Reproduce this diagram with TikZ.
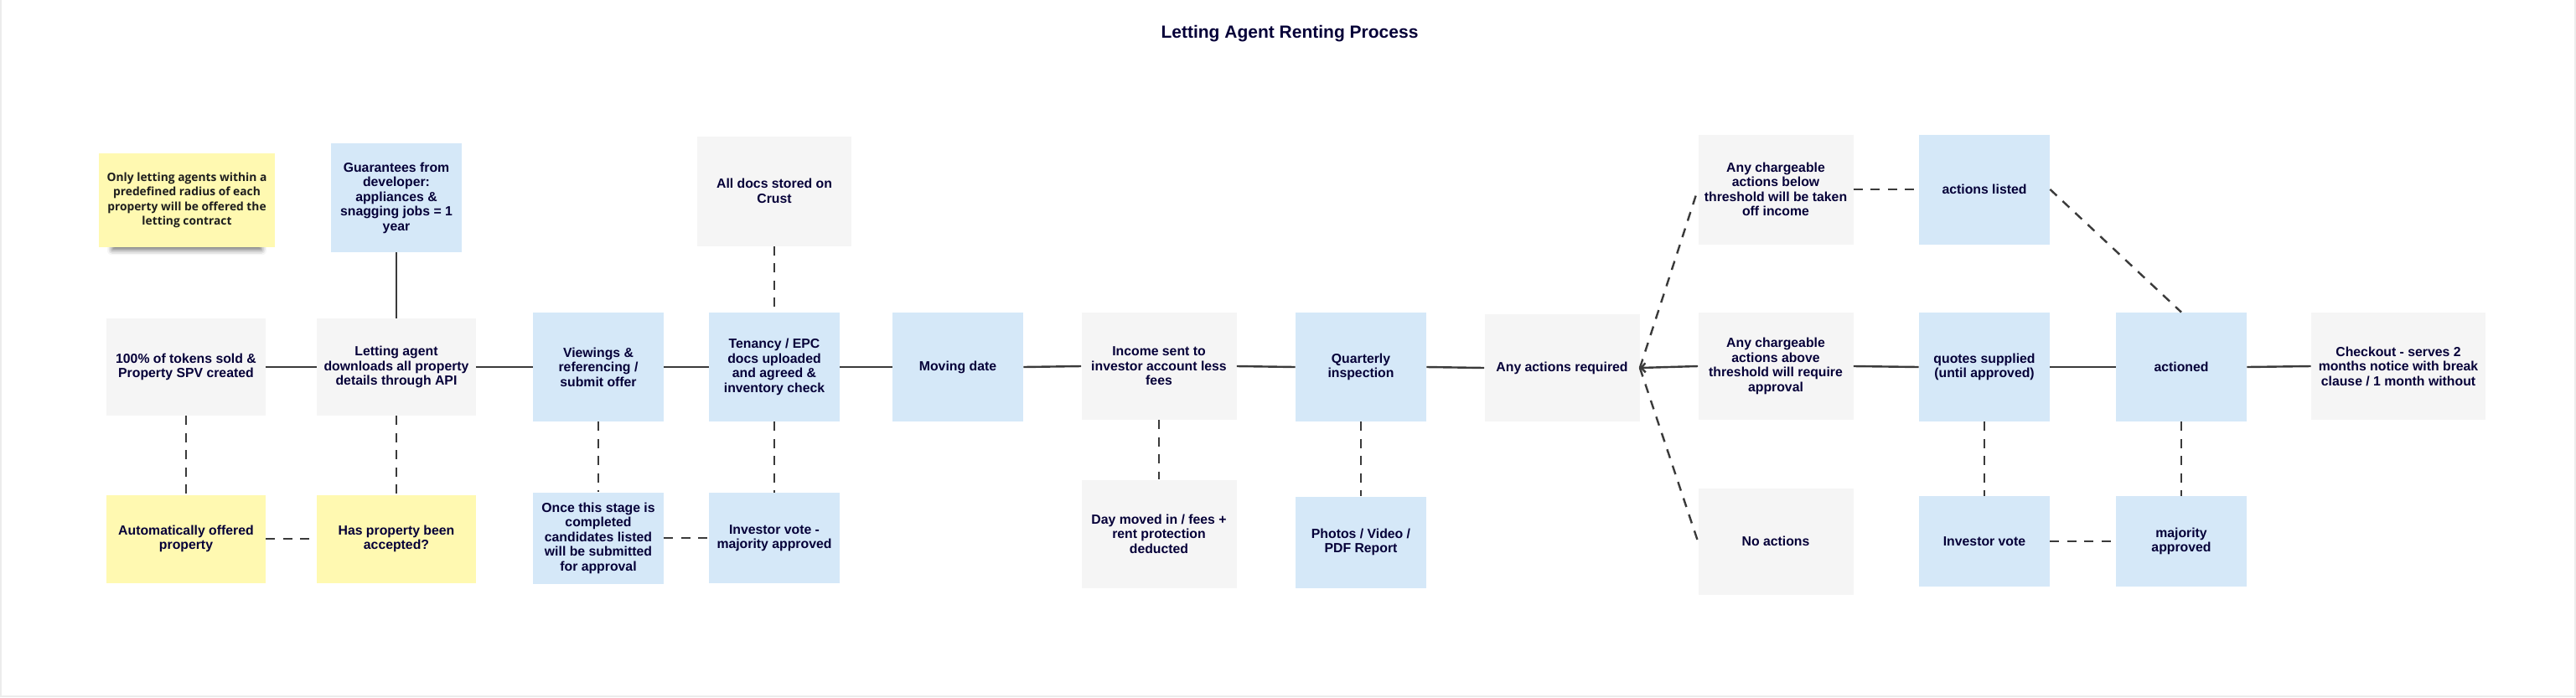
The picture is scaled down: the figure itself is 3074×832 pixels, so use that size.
\documentclass[tikz,border=0pt]{standalone}
\usepackage{fontspec}
\setmainfont{Liberation Sans}
\newfontfamily\notefont{Open Sans}
\usetikzlibrary{arrows.meta, shadows.blur}

\definecolor{ink}{HTML}{050038}
\definecolor{notetext}{HTML}{1E1E1E}
\definecolor{boxgray}{HTML}{F5F5F5}
\definecolor{boxblue}{HTML}{D5E8F8}
\definecolor{boxyellow}{HTML}{FFF9B1}
\definecolor{wire}{HTML}{3A3A3A}
\definecolor{edge}{HTML}{ECECEC}

\begin{document}
\begin{tikzpicture}[x=0.5pt, y=-0.5pt,
    box/.style={inner sep=0pt, align=center, text=ink, font=\fontsize{7.9}{8.75}\selectfont\bfseries},
    gbox/.style={box, fill=boxgray},
    bbox/.style={box, fill=boxblue},
    ybox/.style={box, fill=boxyellow},
    boxsize/.style 2 args={minimum width=#1*0.5pt, minimum height=#2*0.5pt},
    link/.style={wire, line width=1.2pt},
    dlink/.style={link, dash pattern=on 5.5pt off 4.75pt}]

    \useasboundingbox (0,0) rectangle (3074,832);
    % thin frame round the board
    \draw[edge, line width=1pt] (1,0) -- (1,831) -- (3073,831) -- (3073,0);

    \node[text=ink, font=\fontsize{10.5}{12}\selectfont\bfseries] (title) at (1539,40) {Letting Agent Renting Process};

    % sticky note
    \node[ybox, boxsize={210}{112}, text=notetext, font=\notefont\fontsize{6.9}{8.7}\selectfont\bfseries,
        blur shadow={shadow xshift=0pt, shadow yshift=-7pt, shadow scale=0.85, shadow opacity=55, shadow blur radius=3.5pt}]
        (note) at (223,239) {Only letting agents within a\\predefined radius of each\\property will be offered the\\letting contract};

    % top row
    \node[bbox, boxsize={156}{130}] (guar) at (473,236) {Guarantees from\\developer:\\appliances \&\\snagging jobs = 1\\year};
    \node[gbox, boxsize={184}{131}] (docs) at (924,228) {All docs stored on\\Crust};
    \node[gbox, boxsize={185}{131}] (below) at (2119,226) {Any chargeable\\actions below\\threshold will be taken\\off income};
    \node[bbox, boxsize={156}{131}] (listed) at (2368,226) {actions listed};

    % main row
    \node[gbox, boxsize={190}{116}] (tokens) at (222,438) {100\% of tokens sold \&\\Property SPV created};
    \node[gbox, boxsize={190}{116}] (agent) at (473,438) {Letting agent\\downloads all property\\details through API};
    \node[bbox, boxsize={156}{130}] (view) at (714,438) {Viewings \&\\referencing /\\submit offer};
    \node[bbox, boxsize={156}{130}] (tenancy) at (924,438) {Tenancy / EPC\\docs uploaded\\and agreed \&\\inventory check};
    \node[bbox, boxsize={156}{130}] (moving) at (1143,438) {Moving date};
    \node[gbox, boxsize={185}{128}] (income) at (1383,437) {Income sent to\\investor account less\\fees};
    \node[bbox, boxsize={156}{130}] (quarterly) at (1624,438) {Quarterly\\inspection};
    \node[gbox, boxsize={185}{128}] (anyact) at (1864,439) {Any actions required};
    \node[gbox, boxsize={185}{128}] (above) at (2119,437) {Any chargeable\\actions above\\threshold will require\\approval};
    \node[bbox, boxsize={156}{130}] (quotes) at (2368,438) {quotes supplied\\(until approved)};
    \node[bbox, boxsize={156}{130}] (actioned) at (2603,438) {actioned};
    \node[gbox, boxsize={208}{128}] (checkout) at (2862,437) {Checkout - serves 2\\months notice with break\\clause / 1 month without};

    % bottom row
    \node[ybox, boxsize={190}{105}] (auto) at (222,643) {Automatically offered\\property};
    \node[ybox, boxsize={190}{105}] (hasprop) at (473,643) {Has property been\\accepted?};
    \node[bbox, boxsize={156}{109}] (once) at (714,642) {Once this stage is\\completed\\candidates listed\\will be submitted\\for approval};
    \node[bbox, boxsize={156}{108}] (invmaj) at (924,642) {Investor vote -\\majority approved};
    \node[gbox, boxsize={185}{129}] (daymoved) at (1383,637) {Day moved in / fees +\\rent protection\\deducted};
    \node[bbox, boxsize={156}{109}] (photos) at (1624,647) {Photos / Video /\\PDF Report};
    \node[gbox, boxsize={185}{127}] (noact) at (2119,646) {No actions};
    \node[bbox, boxsize={156}{108}] (invvote) at (2368,646) {Investor vote};
    \node[bbox, boxsize={156}{108}] (majority) at (2603,646) {majority\\approved};

    % solid flow
    \draw[link] (tokens.east) -- (agent.west);
    \draw[link] (guar.south) -- (agent.north);
    \draw[link] (agent.east) -- (view.west);
    \draw[link] (view.east) -- (tenancy.west);
    \draw[link] (tenancy.east) -- (moving.west);
    \draw[link] (moving.east) -- (income.west);
    \draw[link] (income.east) -- (quarterly.west);
    \draw[link] (quarterly.east) -- (anyact.west);
    \draw[link, -{Straight Barb[length=2.5pt, width=5.5pt]}] (above.west) -- (anyact.east);
    \draw[link] (above.east) -- (quotes.west);
    \draw[link] (quotes.east) -- (actioned.west);
    \draw[link] (actioned.east) -- (checkout.west);

    % dashed side links
    \draw[dlink] (tokens.south) -- (auto.north);
    \draw[dlink] (agent.south) -- (hasprop.north);
    \draw[dlink] (auto.east) -- (hasprop.west);
    \draw[dlink] (view.south) -- (once.north);
    \draw[dlink] (docs.south) -- (tenancy.north);
    \draw[dlink] (tenancy.south) -- (invmaj.north);
    \draw[dlink] (once.east) -- (invmaj.west);
    \draw[dlink] (income.south) -- (daymoved.north);
    \draw[dlink] (quarterly.south) -- (photos.north);
    \draw[dlink] (anyact.east) -- (below.west);
    \draw[dlink] (anyact.east) -- (noact.west);
    \draw[dlink] (below.east) -- (listed.west);
    \draw[dlink] (listed.east) -- (actioned.north);
    \draw[dlink] (quotes.south) -- (invvote.north);
    \draw[dlink] (actioned.south) -- (majority.north);
    \draw[dlink] (invvote.east) -- (majority.west);
\end{tikzpicture}
\end{document}
